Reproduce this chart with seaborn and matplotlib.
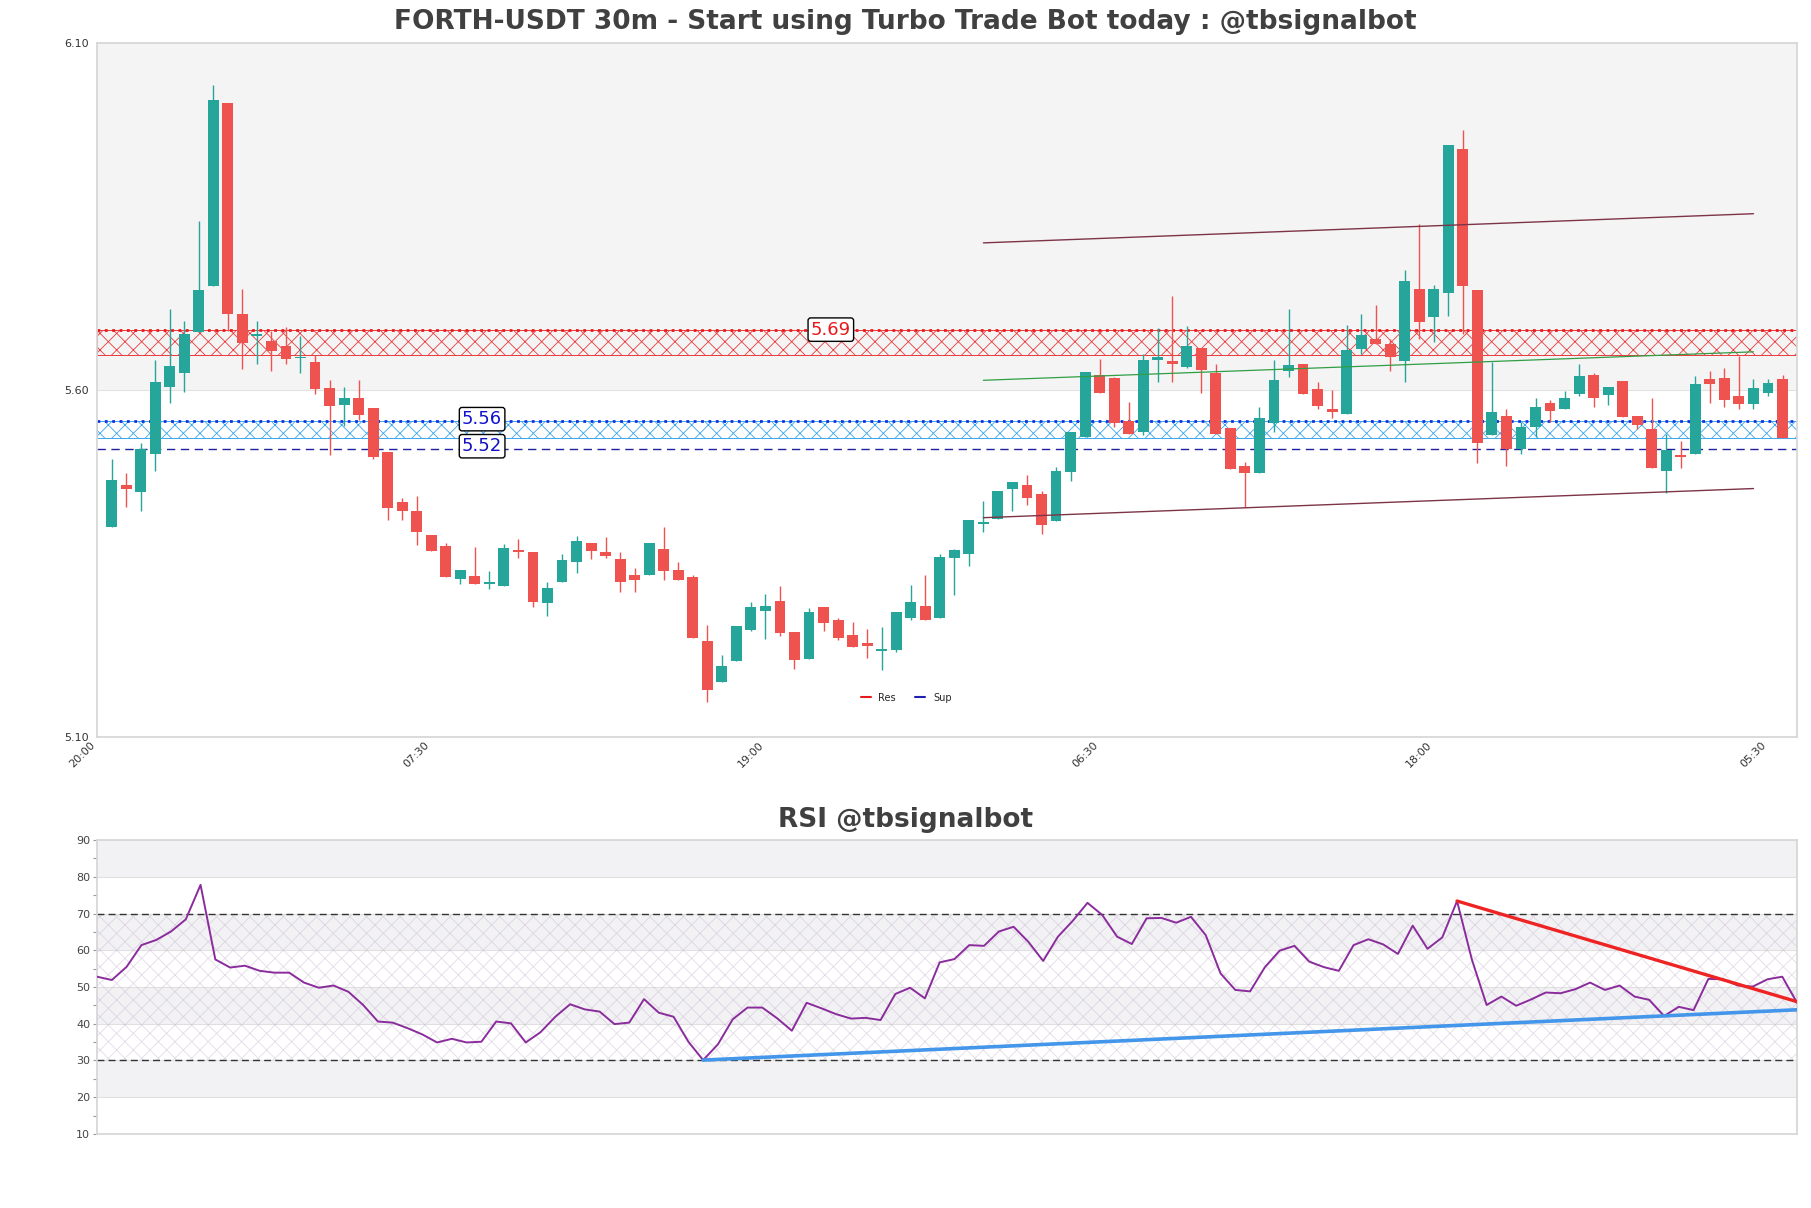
import matplotlib

matplotlib.use("Agg")
import matplotlib.pyplot as plt
import numpy as np
import pandas as pd
import seaborn as sns
from matplotlib.lines import Line2D
from matplotlib.ticker import MultipleLocator

TITLE = "FORTH-USDT 30m - Start using Turbo Trade Bot today : @tbsignalbot"
RSI_TITLE = "RSI @tbsignalbot"

# --------------------------------------------------------------------------- #
# Data (30m candles)
# --------------------------------------------------------------------------- #
opens = [
    5.403, 5.463, 5.453, 5.508, 5.605, 5.625, 5.683, 5.750, 6.014, 5.709,
    5.678, 5.671, 5.663, 5.646, 5.641, 5.603, 5.578, 5.588, 5.574, 5.510,
    5.439, 5.425, 5.391, 5.375, 5.327, 5.332, 5.321, 5.317, 5.370, 5.367,
    5.293, 5.324, 5.352, 5.380, 5.367, 5.356, 5.334, 5.333, 5.371, 5.340,
    5.331, 5.239, 5.179, 5.210, 5.254, 5.282, 5.296, 5.251, 5.213, 5.287,
    5.268, 5.247, 5.235, 5.224, 5.225, 5.272, 5.289, 5.272, 5.358, 5.363,
    5.407, 5.414, 5.457, 5.463, 5.450, 5.411, 5.482, 5.532, 5.621, 5.617,
    5.556, 5.540, 5.643, 5.642, 5.633, 5.661, 5.624, 5.545, 5.491, 5.481,
    5.553, 5.627, 5.638, 5.601, 5.573, 5.565, 5.659, 5.674, 5.667, 5.642,
    5.746, 5.705, 5.740, 5.947, 5.744, 5.535, 5.562, 5.515, 5.546, 5.581,
    5.572, 5.594, 5.622, 5.593, 5.613, 5.563, 5.544, 5.484, 5.507, 5.508,
    5.616, 5.618, 5.591, 5.580, 5.595, 5.616,
]
highs = [
    5.500, 5.481, 5.523, 5.643, 5.716, 5.700, 5.844, 6.039, 6.014, 5.745,
    5.700, 5.685, 5.691, 5.678, 5.650, 5.614, 5.605, 5.614, 5.574, 5.510,
    5.445, 5.447, 5.391, 5.380, 5.340, 5.374, 5.339, 5.378, 5.385, 5.367,
    5.323, 5.363, 5.389, 5.380, 5.388, 5.367, 5.344, 5.379, 5.402, 5.352,
    5.333, 5.262, 5.218, 5.260, 5.295, 5.306, 5.317, 5.251, 5.286, 5.287,
    5.272, 5.265, 5.256, 5.258, 5.280, 5.319, 5.334, 5.364, 5.371, 5.412,
    5.440, 5.455, 5.468, 5.478, 5.455, 5.489, 5.539, 5.626, 5.645, 5.619,
    5.582, 5.652, 5.690, 5.735, 5.692, 5.661, 5.638, 5.545, 5.496, 5.576,
    5.643, 5.717, 5.638, 5.611, 5.600, 5.693, 5.710, 5.723, 5.674, 5.773,
    5.839, 5.751, 5.953, 5.974, 5.744, 5.640, 5.572, 5.554, 5.589, 5.585,
    5.598, 5.638, 5.625, 5.605, 5.613, 5.563, 5.588, 5.537, 5.527, 5.620,
    5.627, 5.631, 5.649, 5.616, 5.616, 5.621,
]
lows = [
    5.403, 5.432, 5.425, 5.483, 5.581, 5.597, 5.683, 5.750, 5.685, 5.630,
    5.638, 5.627, 5.637, 5.625, 5.594, 5.507, 5.548, 5.557, 5.501, 5.412,
    5.413, 5.377, 5.368, 5.330, 5.321, 5.321, 5.313, 5.317, 5.358, 5.288,
    5.274, 5.323, 5.336, 5.356, 5.358, 5.309, 5.309, 5.333, 5.326, 5.326,
    5.243, 5.150, 5.179, 5.210, 5.253, 5.241, 5.245, 5.198, 5.213, 5.253,
    5.240, 5.230, 5.214, 5.196, 5.223, 5.269, 5.269, 5.272, 5.305, 5.346,
    5.396, 5.414, 5.426, 5.434, 5.392, 5.411, 5.469, 5.532, 5.596, 5.547,
    5.536, 5.535, 5.612, 5.612, 5.631, 5.596, 5.536, 5.486, 5.431, 5.481,
    5.540, 5.619, 5.594, 5.572, 5.559, 5.565, 5.652, 5.667, 5.627, 5.612,
    5.674, 5.669, 5.706, 5.681, 5.495, 5.535, 5.491, 5.508, 5.532, 5.554,
    5.572, 5.592, 5.576, 5.578, 5.561, 5.544, 5.488, 5.451, 5.487, 5.508,
    5.581, 5.576, 5.573, 5.572, 5.592, 5.531,
]
closes = [
    5.470, 5.458, 5.515, 5.611, 5.634, 5.680, 5.744, 6.018, 5.710, 5.668,
    5.681, 5.656, 5.644, 5.648, 5.601, 5.577, 5.588, 5.564, 5.503, 5.430,
    5.425, 5.396, 5.368, 5.330, 5.340, 5.321, 5.323, 5.372, 5.367, 5.294,
    5.314, 5.355, 5.383, 5.368, 5.361, 5.323, 5.326, 5.379, 5.339, 5.326,
    5.243, 5.168, 5.202, 5.260, 5.288, 5.289, 5.250, 5.211, 5.280, 5.264,
    5.243, 5.230, 5.231, 5.227, 5.280, 5.295, 5.269, 5.360, 5.369, 5.412,
    5.410, 5.455, 5.468, 5.444, 5.405, 5.483, 5.539, 5.626, 5.596, 5.552,
    5.536, 5.643, 5.647, 5.638, 5.664, 5.629, 5.536, 5.486, 5.481, 5.559,
    5.614, 5.636, 5.594, 5.577, 5.568, 5.657, 5.679, 5.667, 5.648, 5.757,
    5.698, 5.745, 5.953, 5.750, 5.524, 5.568, 5.515, 5.546, 5.575, 5.570,
    5.588, 5.620, 5.589, 5.605, 5.561, 5.550, 5.488, 5.513, 5.503, 5.608,
    5.608, 5.586, 5.580, 5.603, 5.610, 5.531,
]
rsi = [
    52.8, 51.9, 55.5, 61.4, 62.8, 65.1, 68.4, 77.8, 57.5, 55.3,
    55.8, 54.4, 53.9, 53.9, 51.2, 49.8, 50.4, 48.7, 45.1, 40.6,
    40.3, 38.8, 37.1, 34.9, 35.9, 34.9, 35.1, 40.6, 40.1, 34.9,
    37.7, 41.9, 45.3, 43.9, 43.3, 39.9, 40.3, 46.7, 43.0, 41.9,
    35.1, 30.1, 34.4, 41.2, 44.4, 44.4, 41.5, 38.1, 45.7, 44.2,
    42.6, 41.4, 41.6, 41.0, 48.1, 49.8, 46.9, 56.7, 57.6, 61.4,
    61.2, 65.1, 66.4, 62.3, 57.1, 63.7, 68.0, 72.9, 69.6, 63.7,
    61.7, 68.7, 68.8, 67.5, 69.1, 64.1, 53.7, 49.2, 48.8, 55.4,
    59.9, 61.2, 56.9, 55.4, 54.4, 61.4, 63.0, 61.6, 59.0, 66.7,
    60.4, 63.5, 73.4, 57.5, 45.1, 47.4, 44.9, 46.6, 48.5, 48.3,
    49.4, 51.2, 49.2, 50.4, 47.4, 46.5, 42.1, 44.6, 43.7, 52.2,
    52.1, 50.4, 50.1, 52.1, 52.8, 45.7,
]

tick_pos = [-1, 22, 45, 68, 91, 114]
tick_labels = ["20:00", "07:30", "19:00", "06:30", "18:00", "05:30"]
price_ticks = [5.10, 5.60, 6.10]

# support / resistance levels
res_level, res_low = 5.686, 5.650
sup_level, sup_low, sup2_level = 5.556, 5.531, 5.515

# trend lines (x = candle index)
chan_x = [60, 113]
chan_upper = [5.812, 5.854]
chan_lower = [5.416, 5.458]
green_y = [5.614, 5.655]
rsi_up_x, rsi_up_y = [41, 115], [30.1, 43.8]
rsi_dn_x, rsi_dn_y = [92, 115], [73.4, 46.0]

GREEN, RED = "#26a69a", "#ef5350"

# --------------------------------------------------------------------------- #
# Figure
# --------------------------------------------------------------------------- #
sns.set_theme(style="white")
plt.rcParams["font.family"] = ["DejaVu Sans"]
plt.rcParams["hatch.linewidth"] = 0.6

fig = plt.figure(figsize=(18.11, 12.08), dpi=100)
ax = fig.add_axes([0.0536, 0.3899, 0.9387, 0.5745])
ax2 = fig.add_axes([0.0536, 0.0613, 0.9387, 0.2433])

df = pd.DataFrame({"open": opens, "high": highs, "low": lows, "close": closes})
df["x"] = np.arange(len(df))
cols = np.where(df["close"] >= df["open"], GREEN, RED)

# background bands
ax.axhspan(5.60, 6.10, color="#f4f4f4", zorder=0, lw=0)
ax.axhline(5.60, color="#e2e2e2", lw=0.8, zorder=0.5)

# resistance zone
ax.axhspan(res_low, res_level, facecolor="none", edgecolor="#ea3a3c",
           hatch="xx", lw=0.7, zorder=1)
ax.axhline(res_level, color="#e8191c", ls=":", lw=2, zorder=1.5)
# support zone
ax.axhspan(sup_low, sup_level, facecolor="none", edgecolor="#3aa6ec",
           hatch="xx", lw=0.7, zorder=1)
ax.axhline(sup_level, color="#1030e0", ls=":", lw=2, zorder=1.5)
ax.axhline(sup2_level, color="#2020a0", ls=(0, (6, 4)), lw=1, zorder=1.5)

# candles
ax.vlines(df["x"], df["low"], df["high"], colors=cols, lw=1, zorder=3)
body = (df["close"] - df["open"]).abs().clip(lower=0.002)
ax.bar(df["x"], body, bottom=np.minimum(df["open"], df["close"]),
       width=0.75, color=cols, lw=0, zorder=4)

# channel / trend lines
sns.lineplot(x=chan_x, y=chan_upper, ax=ax, color="#7d3447", lw=1, zorder=5)
sns.lineplot(x=chan_x, y=chan_lower, ax=ax, color="#7d3447", lw=1, zorder=5)
sns.lineplot(x=chan_x, y=green_y, ax=ax, color="#2f9e44", lw=0.9, zorder=5)

# level labels
box = dict(boxstyle="round,pad=0.15", fc="white", ec="black", lw=1)
ax.text(49.5, 5.687, f"{res_level:.2f}", color="#e8191c", fontsize=13,
        ha="center", va="center", bbox=box, zorder=6)
ax.text(25.5, 5.558, f"{sup_level:.2f}", color="#1010d0", fontsize=13,
        ha="center", va="center", bbox=box, zorder=6)
ax.text(25.5, 5.519, "5.52", color="#1010c0", fontsize=13,
        ha="center", va="center", bbox=box, zorder=6)

handles = [Line2D([], [], color="#e8191c", lw=1.5),
           Line2D([], [], color="#2020b0", lw=1.5)]
ax.legend(handles, ["Res", "Sup"], loc="lower center", bbox_to_anchor=(0.476, 0.037),
          ncol=2, frameon=False, fontsize=7, handlelength=1.0, columnspacing=2)

ax.set_xlim(-1, 116)
ax.set_ylim(5.10, 6.10)
ax.set_xticks(tick_pos)
ax.set_xticklabels(tick_labels, rotation=45, ha="right", fontsize=8, color="#333333")
ax.set_yticks(price_ticks)
ax.set_yticklabels([f"{t:.2f}" for t in price_ticks], fontsize=8, color="#333333")
ax.tick_params(axis="y", length=0, pad=6)
ax.tick_params(axis="x", length=0, pad=2)
ax.set_xlabel("")
ax.set_ylabel("")
for s in ax.spines.values():
    s.set_color("#d6d6d6")

# --------------------------------------------------------------------------- #
# RSI panel
# --------------------------------------------------------------------------- #
for lo in [20, 40, 60, 80]:
    ax2.axhspan(lo, lo + 10, color="#f2f2f4", lw=0, zorder=0)
for g in range(20, 90, 10):
    ax2.axhline(g, color="#e0e0e0", lw=0.8, zorder=0.5)
ax2.axhspan(30, 70, facecolor="none", edgecolor="#c8b8d0", alpha=0.5,
            hatch="xx", lw=0, zorder=0.6)
ax2.axhline(30, color="#333333", ls=(0, (5, 3)), lw=1, zorder=2)
ax2.axhline(70, color="#333333", ls=(0, (5, 3)), lw=1, zorder=2)

sns.lineplot(x=np.arange(len(rsi)), y=rsi, ax=ax2, color="#8a2c9c", lw=1.4, zorder=3)
sns.lineplot(x=rsi_up_x, y=rsi_up_y, ax=ax2, color="#4396ea", lw=2.6, zorder=4)
sns.lineplot(x=rsi_dn_x, y=rsi_dn_y, ax=ax2, color="#ee2424", lw=2.4, zorder=4)

ax2.set_xlim(0, len(rsi) - 1)
ax2.set_ylim(10, 90)
ax2.set_xticks([])
ax2.set_yticks(range(10, 100, 10))
ax2.yaxis.set_minor_locator(MultipleLocator(5))
ax2.tick_params(axis="y", which="both", left=True, length=3, width=0.8,
                color="#999999", labelsize=8, labelcolor="#444444", pad=2)
ax2.set_xlabel("")
ax2.set_ylabel("")
for s in ax2.spines.values():
    s.set_color("#d6d6d6")

fig.text(0.5, 0.9818, TITLE, ha="center", va="center", fontsize=19,
         fontweight="bold", color="#404040")
fig.text(0.5, 0.3212, RSI_TITLE, ha="center", va="center", fontsize=19,
         fontweight="bold", color="#404040")

fig.savefig("out.png", dpi=100)
plt.close(fig)
